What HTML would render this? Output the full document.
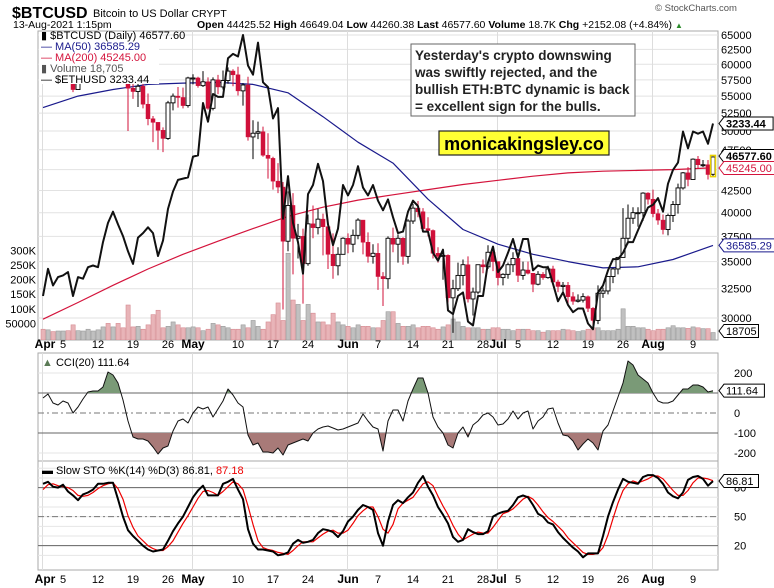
<!DOCTYPE html>
<html><head><meta charset="utf-8">
<style>
html,body{margin:0;padding:0;background:#fff;}
svg{display:block;font-family:"Liberation Sans",Arial,sans-serif;}
</style></head>
<body>
<svg id="chart" width="774" height="588" viewBox="0 0 774 588" xmlns="http://www.w3.org/2000/svg">
<defs>
<clipPath id="mainClip"><rect x="38" y="31" width="680" height="309"/></clipPath>
<clipPath id="cciUp"><rect x="38" y="353" width="680" height="40"/></clipPath>
<clipPath id="cciDn"><rect x="38" y="433" width="680" height="28"/></clipPath>
</defs>
<g id="header">
<text x="12" y="18" font-size="16" font-weight="bold">$BTCUSD</text>
<text x="93" y="17" font-size="11">Bitcoin to US Dollar  <tspan font-size="10.5">CRYPT</tspan></text>
<text x="13" y="28" font-size="10.5">13-Aug-2021 1:15pm</text>
<text x="197" y="28" font-size="10.5"><tspan font-weight="bold">Open</tspan> 44425.52 <tspan font-weight="bold">High</tspan> 46649.04 <tspan font-weight="bold">Low</tspan> 44260.38 <tspan font-weight="bold">Last</tspan> 46577.60 <tspan font-weight="bold">Volume</tspan> 18.7K <tspan font-weight="bold">Chg</tspan> +2152.08 (+4.84%) <tspan fill="#2a8a2a" font-size="8">▲</tspan></text>
<text x="655" y="11" font-size="9.5" fill="#555">© StockCharts.com</text>
</g>
<g id="grid"></g>
<g id="mainPanel" clip-path="url(#mainClip)"></g>
<g id="cciPanel"></g>
<g id="stoPanel"></g>
<g id="axes"></g>
<g id="overlay">
<rect x="411" y="44" width="224" height="72" fill="#fff" stroke="#666" stroke-width="1"/>
<text font-size="13.5" font-weight="bold" fill="#222">
<tspan x="415" y="60">Yesterday's crypto downswing</tspan>
<tspan x="415" y="77">was swiftly rejected, and the</tspan>
<tspan x="415" y="94">bullish ETH:BTC dynamic is back</tspan>
<tspan x="415" y="111">= excellent sign for the bulls.</tspan>
</text>
<rect x="439" y="131" width="170" height="24" fill="#ffff33" stroke="#222" stroke-width="1.2"/>
<text x="524" y="150" font-size="18" font-weight="bold" text-anchor="middle">monicakingsley.co</text>
<g font-size="11">
<rect x="39" y="32" width="120" height="52" fill="#fff"/>
<text x="41" y="39">▮ $BTCUSD (Daily) 46577.60</text>
<text x="41" y="50" fill="#1a1a8c">— MA(50) 36585.29</text>
<text x="41" y="61" fill="#d4143c">— MA(200) 45245.00</text>
<text x="41" y="72" fill="#555">▮ Volume 18,705</text>
<text x="41" y="83">— $ETHUSD 3233.44</text>
</g>
<text x="42" y="366" font-size="11"><tspan fill="#5a7a55">▲</tspan> CCI(20) 111.64</text>
<text x="42" y="474" font-size="11">▬ Slow STO %K(14) %D(3) 86.81, <tspan fill="#e00">87.18</tspan></text>
</g>
</svg>
<script>
const closes=[58800,59000,57100,58200,59100,58000,56000,58100,58100,59800,59800,59900,63500,63100,63300,61400,60000,56200,55700,56500,53800,51700,51200,50100,49000,54000,55000,54800,53600,57800,
57800,56600,57200,53200,57500,56400,57400,58900,58300,55800,56700,49200,49700,49900,46800,46400,43600,42900,37000,40800,37300,37500,34800,38800,38400,39300,38500,35700,34600,35700,37300,
36700,37600,39200,36900,35500,35800,33600,33400,37300,36700,37300,35500,39100,40500,40100,38300,38100,35800,35500,35600,31700,32500,33700,34700,31600,32200,34700,34500,35900,35000,
33500,33800,34700,35300,33700,34200,33900,32900,33800,33500,34300,33100,32700,32800,31800,31400,31500,31800,30800,29800,32100,32300,33600,34300,35400,37300,39400,40000,40000,42200,41500,
39900,39200,38200,39700,40900,42800,44600,43800,46300,45600,45600,44400,46577];
const opens=[58900,58800,59000,57100,58200,59100,58000,56000,58100,58100,59800,59800,59900,63500,63100,63300,61400,60000,56200,55700,56500,53800,51700,51200,50100,49000,54000,55000,54800,53600,
57800,57800,56600,57200,53200,57500,56400,57400,58900,58300,55800,56700,49200,49700,49900,46800,46400,43600,42900,37000,40800,37300,37500,34800,38800,38400,39300,38500,35700,34600,35700,
37300,36700,37600,39200,36900,35500,35800,33600,33400,37300,36700,37300,35500,39100,40500,40100,38300,38100,35800,35500,35600,31700,32500,33700,34700,31600,32200,34700,34500,35900,
35000,33500,33800,34700,35300,33700,34200,33900,32900,33800,33500,34300,33100,32700,32800,31800,31400,31500,31800,30800,29800,32100,32300,33600,34300,35400,37300,39400,40000,40000,42200,
41500,39900,39200,38200,39700,40900,42800,44600,43800,46300,45600,45600,44425];
const highs=[59500,60000,59800,58500,59300,59500,58600,58200,58900,61200,60700,61200,64800,64000,63800,63500,62500,60300,57400,57000,57000,55400,52100,51200,50500,54300,55400,56400,56300,58000,
58400,58000,58900,57900,57900,58300,59000,59500,59200,59600,57000,58000,51500,51300,50600,49700,46600,45800,43500,42400,42200,38800,38300,39800,40800,40400,39900,38800,37800,36400,37400,
37800,38200,39400,39200,37900,36700,36800,34000,37500,38400,37700,37400,39300,41000,41300,40500,39500,38200,36400,36000,35700,33300,34900,35200,35500,32600,34700,35200,36600,36000,
35000,33900,34900,35900,35300,35000,35000,33900,34100,34000,34600,34600,33300,33100,33100,32200,32000,32100,31900,30900,32800,32600,33600,34400,35400,40500,40900,40600,40600,42300,42300,
42600,40400,39800,39900,41300,43300,44700,45300,46400,46700,46200,46200,46650];
const lows=[58500,58000,56900,57000,57700,57600,55600,56000,57600,57800,59000,59300,61200,61300,62100,60300,59600,50000,54600,53400,53200,50800,48500,47500,47200,48800,52900,53300,53200,53300,
56800,56300,56400,53000,52900,55300,56000,56900,56500,55100,53600,48700,46300,48900,46600,43900,42600,42200,30700,36000,33800,35300,31200,34600,37300,37700,35600,34300,33400,33700,35800,
35800,35900,37200,35700,34900,34800,32400,31000,32500,35900,34900,34700,34800,38800,39500,38100,37500,35300,34900,33300,31300,28800,32300,32800,31300,30200,32000,33900,34300,34100,
32800,32800,33400,34000,33100,33300,33800,32200,32800,33300,33400,32800,32200,32200,31200,31100,31300,31300,30500,29300,29500,31700,32000,33000,33800,36400,36700,38800,38500,39100,40900,
39500,38700,37700,37600,39000,39900,42600,43000,43800,45100,45300,43800,44200];
const volumesK=[30,28,22,24,24,25,45,25,24,30,24,28,38,50,38,50,35,113,38,40,30,45,80,95,35,40,55,45,35,35,
38,35,25,30,50,45,40,35,30,30,45,35,60,40,30,55,80,120,60,290,130,115,60,115,85,55,55,45,85,55,45,
40,35,45,40,40,35,35,60,90,90,50,40,40,45,35,40,40,35,30,38,45,65,55,40,35,35,35,30,30,35,
35,30,30,25,30,30,30,25,25,20,25,25,25,30,28,25,22,25,30,35,35,25,25,25,30,100,40,40,35,35,30,
25,30,30,35,42,35,35,33,38,35,32,32,18.7];
const ethCloses=[1970,2130,2030,2080,2090,2110,1970,2080,2070,2140,2150,2140,2300,2430,2510,2420,2340,2240,2160,2330,2360,2400,2360,2210,2310,2530,2660,2750,2760,2770,
2940,2950,3430,3250,3520,3490,3490,3900,3950,3920,4170,3820,3720,4080,3640,3590,3280,3380,2460,2780,2430,2300,2100,2640,2710,2880,2740,2420,2280,2390,2710,
2630,2710,2860,2690,2630,2710,2590,2520,2600,2470,2360,2370,2510,2590,2550,2370,2370,2230,2180,2250,1890,1870,1970,1990,1830,1810,1970,1970,2170,2270,
2110,2150,2230,2320,2200,2320,2320,2120,2150,2140,2140,2040,1940,1990,1920,1880,1900,1900,1820,1790,1990,2030,2120,2190,2190,2230,2300,2300,2380,2460,2540,
2560,2610,2510,2720,2830,2890,3160,3010,3160,3140,3160,3050,3233.44];
const maDays=[0,7,14,21,28,35,42,49,56,63,70,77,84,91,98,105,112,119,126,133,134];
const ma50=[53300,55000,56000,56800,57000,57100,56800,55500,52000,48500,45800,41500,38200,36700,35700,35000,34400,34500,35200,36400,36585.29];
const ma200=[29900,31300,32800,34300,35700,37000,38300,39600,40600,41400,42000,42600,43200,43700,44200,44600,44800,44900,45000,45200,45245];
const cci=[75,95,50,40,60,50,0,30,70,105,110,110,130,205,190,150,65,-40,-120,-130,-130,-140,-170,-205,-175,-165,-90,-40,-30,-50,
0,30,20,30,-20,20,60,120,90,50,30,-110,-160,-150,-195,-195,-200,-175,-210,-160,-150,-140,-130,-140,-100,-80,-70,-65,-75,-85,-80,
-70,-60,-50,-5,-40,-70,-80,-190,-40,15,15,-40,60,120,175,175,100,-20,-70,-100,-160,-175,-100,-70,-120,-60,-40,-10,0,-20,
-60,-55,-30,10,-30,0,10,-80,-40,-20,20,25,-50,-110,-115,-140,-185,-155,-130,-150,-185,-90,-60,10,80,150,260,240,190,170,150,
100,60,50,50,60,90,120,120,140,140,130,105,111.64];
const stoK=[84,86,81,80,83,76,72,67,73,75,78,84,84,85,85,68,50,36,30,25,20,16,14,15,16,25,35,43,50,60,
70,77,82,72,72,72,84,86,89,78,68,37,22,16,16,15,14,10,11,13,22,26,23,24,26,33,37,36,34,29,35,
45,50,57,62,60,57,33,20,45,62,67,64,70,75,85,92,81,72,60,52,43,29,24,26,37,34,32,32,35,
50,53,55,56,62,70,72,70,62,53,50,44,42,34,28,23,18,14,8,12,12,12,30,50,65,78,89,86,85,84,91,
93,93,90,84,75,71,69,75,88,91,92,89,82,86.81];
const stoD=[78,83,84,82,81,80,77,72,71,72,75,79,82,84,85,79,68,51,39,30,25,20,17,15,15,19,25,34,43,51,
60,69,76,77,75,72,76,81,86,84,78,61,42,25,18,16,15,13,12,11,15,20,24,24,24,28,32,35,36,33,33,
36,43,51,56,60,60,50,37,33,42,58,64,67,70,77,84,86,82,71,61,52,41,32,26,29,32,34,33,33,
39,46,53,55,58,63,68,71,68,62,55,49,45,40,35,28,23,18,13,11,11,12,18,31,48,64,77,84,87,85,87,
89,92,92,89,83,77,72,72,77,85,90,90,89,87.18];
const priceTicks=[65000,62500,60000,57500,55000,52500,50000,47500,45000,42500,40000,37500,35000,32500,30000];
const volTicks=[300,250,200,150,100,50];
const volTickLabels=["300K","250K","200K","150K","100K","50000"];
const cciTicks=[200,0,-100,-200];
const stoTicks=[80,50,20];
const dateDays=[0,4,11,18,25,30,39,46,53,61,67,74,81,88,91,95,102,109,116,122,130];
const dateLabels=["Apr","5","12","19","26","May","10","17","24","Jun","7","14","21","28","Jul","5","12","19","26","Aug","9"];
const monthDays=[0,30,61,91,122];

const NS="http://www.w3.org/2000/svg";
const xD=d=>43+5*d;
const yP=v=>35+(Math.log(65000)-Math.log(v))*366;
const yE=v=>35+(Math.log(4170)-Math.log(v))*348;
const yV=v=>338-v*0.292;
const yC=v=>413-v*0.2;
const yS=v=>565-v*0.967;
function el(tag,attrs,parent){const e=document.createElementNS(NS,tag);for(const k in attrs)e.setAttribute(k,attrs[k]);parent.appendChild(e);return e;}
const grid=document.getElementById('grid'),main=document.getElementById('mainPanel'),cciG=document.getElementById('cciPanel'),stoG=document.getElementById('stoPanel'),axes=document.getElementById('axes');

[[38,31,680,309,'main-panel-frame'],[38,353,680,108,'cci-panel-frame'],[38,461,680,109,'sto-panel-frame']].forEach(p=>{
 const r=el('rect',{x:p[0],y:p[1],width:p[2],height:p[3],fill:'#fff',stroke:'#aaa','stroke-width':1},grid);
 
 
});
priceTicks.forEach(v=>{
 const y=yP(v);
 el('line',{x1:38,x2:718,y1:y,y2:y,stroke:'#e2e2e2','stroke-width':1},grid);
 const t=el('text',{x:721,y:y+4,'font-size':11},axes);t.textContent=v;
 
 
});
volTicks.forEach((v,i)=>{
 const t=el('text',{x:36,y:yV(v)+4,'font-size':11,'text-anchor':'end'},axes);t.textContent=volTickLabels[i];
 
 
});
monthDays.forEach(d=>{
 const x=xD(d)-0.5;
 [[31,340],[353,461],[461,570]].forEach(s=>el('line',{x1:x,x2:x,y1:s[0],y2:s[1],stroke:'#ddd','stroke-width':1},grid));
});
[348,583].forEach(yy=>{
 dateDays.forEach((d,i)=>{
  const bold=isNaN(+dateLabels[i]);
  const t=el('text',{x:xD(d)+(i===0?2:0),y:yy,'font-size':bold?12:11,'font-weight':bold?'bold':'normal','text-anchor':'middle'},axes);
  t.textContent=dateLabels[i];
  
  
 });
});
volumesK.forEach((v,i)=>{
 const down=closes[i]<opens[i];
 const r=el('rect',{x:xD(i)-2,y:yV(v),width:4.2,height:338-yV(v)+2,fill:down?'#e8b4b8':'#c0c0c0',stroke:down?'#d68a91':'#999','stroke-width':0.6},main);
 
 
});
function poly(days,vals,fy,color,w,name,parent){
 const pts=days.map((d,i)=>xD(d)+','+fy(vals[i]).toFixed(1)).join(' ');
 const p=el('polyline',{points:pts,fill:'none',stroke:color,'stroke-width':w,'stroke-linejoin':'round'},parent);
 
 
 return p;
}
poly(maDays,ma200,yP,'#d4143c',1.2,'ma200-line',main);
poly(maDays,ma50,yP,'#1a1a8c',1.2,'ma50-line',main);
closes.forEach((c,i)=>{
 const o=opens[i],x=xD(i),up=c>=o,col=up?'#000':'#d0103a';
 const w=el('line',{x1:x,x2:x,y1:yP(highs[i]),y2:yP(lows[i]),stroke:col,'stroke-width':1},main);
 
 
 const top=yP(Math.max(o,c)),bot=yP(Math.min(o,c));
 const b=el('rect',{x:x-2,y:top,width:4,height:Math.max(1,bot-top),fill:up?'#fff':'#d0103a',stroke:col,'stroke-width':up?0.9:0.5},main);
 
 
});
poly(ethCloses.map((_,i)=>i),ethCloses,yE,'#111',2,'ethusd-line',main);
const hl=el('rect',{x:xD(134)-2.5,y:yP(46649)-1,width:5,height:yP(44260)-yP(46649)+2,fill:'none',stroke:'#e8d000','stroke-width':1.5},main);



[[yC(100),'#666',''],[yC(-100),'#666',''],[yC(0),'#777','6,3,2,3'],[yC(200),'#e4e4e4',''],[yC(-200),'#e4e4e4','']].forEach(l=>el('line',{x1:38,x2:718,y1:l[0],y2:l[0],stroke:l[1],'stroke-width':1,'stroke-dasharray':l[2]},cciG));
cciTicks.forEach(v=>{const t=el('text',{x:734,y:yC(v)+4,'font-size':11},axes);t.textContent=v;
 
 });
const cpts=cci.map((v,i)=>xD(i)+','+yC(v).toFixed(1));
const upA=el('polygon',{points:xD(0)+','+yC(100)+' '+cpts.join(' ')+' '+xD(134)+','+yC(100),fill:'#7a9a77',stroke:'none','clip-path':'url(#cciUp)'},cciG);


const dnA=el('polygon',{points:xD(0)+','+yC(-100)+' '+cpts.join(' ')+' '+xD(134)+','+yC(-100),fill:'#a87a78',stroke:'none','clip-path':'url(#cciDn)'},cciG);


poly(cci.map((_,i)=>i),cci,yC,'#111',1,'cci-line',cciG);

for(let v=10;v<=100;v+=10){el('line',{x1:38,x2:718,y1:yS(v),y2:yS(v),stroke:'#e6e6e6','stroke-width':1},stoG);}
[[yS(80),'#666',''],[yS(20),'#666',''],[yS(50),'#777','6,3,2,3']].forEach(l=>el('line',{x1:38,x2:718,y1:l[0],y2:l[0],stroke:l[1],'stroke-width':1,'stroke-dasharray':l[2]},stoG));
stoTicks.forEach(v=>{const t=el('text',{x:734,y:yS(v)+4,'font-size':11},axes);t.textContent=v;
 
 });
poly(stoD.map((_,i)=>i),stoD,yS,'#e00',1.2,'sto-d-line',stoG);
poly(stoK.map((_,i)=>i),stoK,yS,'#000',2,'sto-k-line',stoG);

function tag(y,text,color,bold,name){
 const x0=719;
 const g=el('g',{},axes);
 
 
 const w=text.length*(bold?6.3:5.9)+5;
 el('polygon',{points:`${x0},${y} ${x0+5},${y-6.5} ${x0+5+w},${y-6.5} ${x0+5+w},${y+6.5} ${x0+5},${y+6.5}`,fill:'#fff',stroke:color,'stroke-width':1},g);
 const t=el('text',{x:x0+7,y:y+4,'font-size':11,'font-weight':bold?'bold':'normal',fill:color},g);t.textContent=text;
}
tag(yE(3233.44),'3233.44','#000',true,'eth-last-tag');
tag(156,'46577.60','#000',true,'btc-last-tag');
tag(168,'45245.00','#d4143c',false,'ma200-tag');
tag(yP(36585.29),'36585.29','#1a1a8c',false,'ma50-tag');
tag(331,'18705','#000',false,'volume-tag');
tag(yC(111.64),'111.64','#000',false,'cci-tag');
tag(yS(86.81),'86.81','#000',false,'sto-tag');
</script>
</body></html>
